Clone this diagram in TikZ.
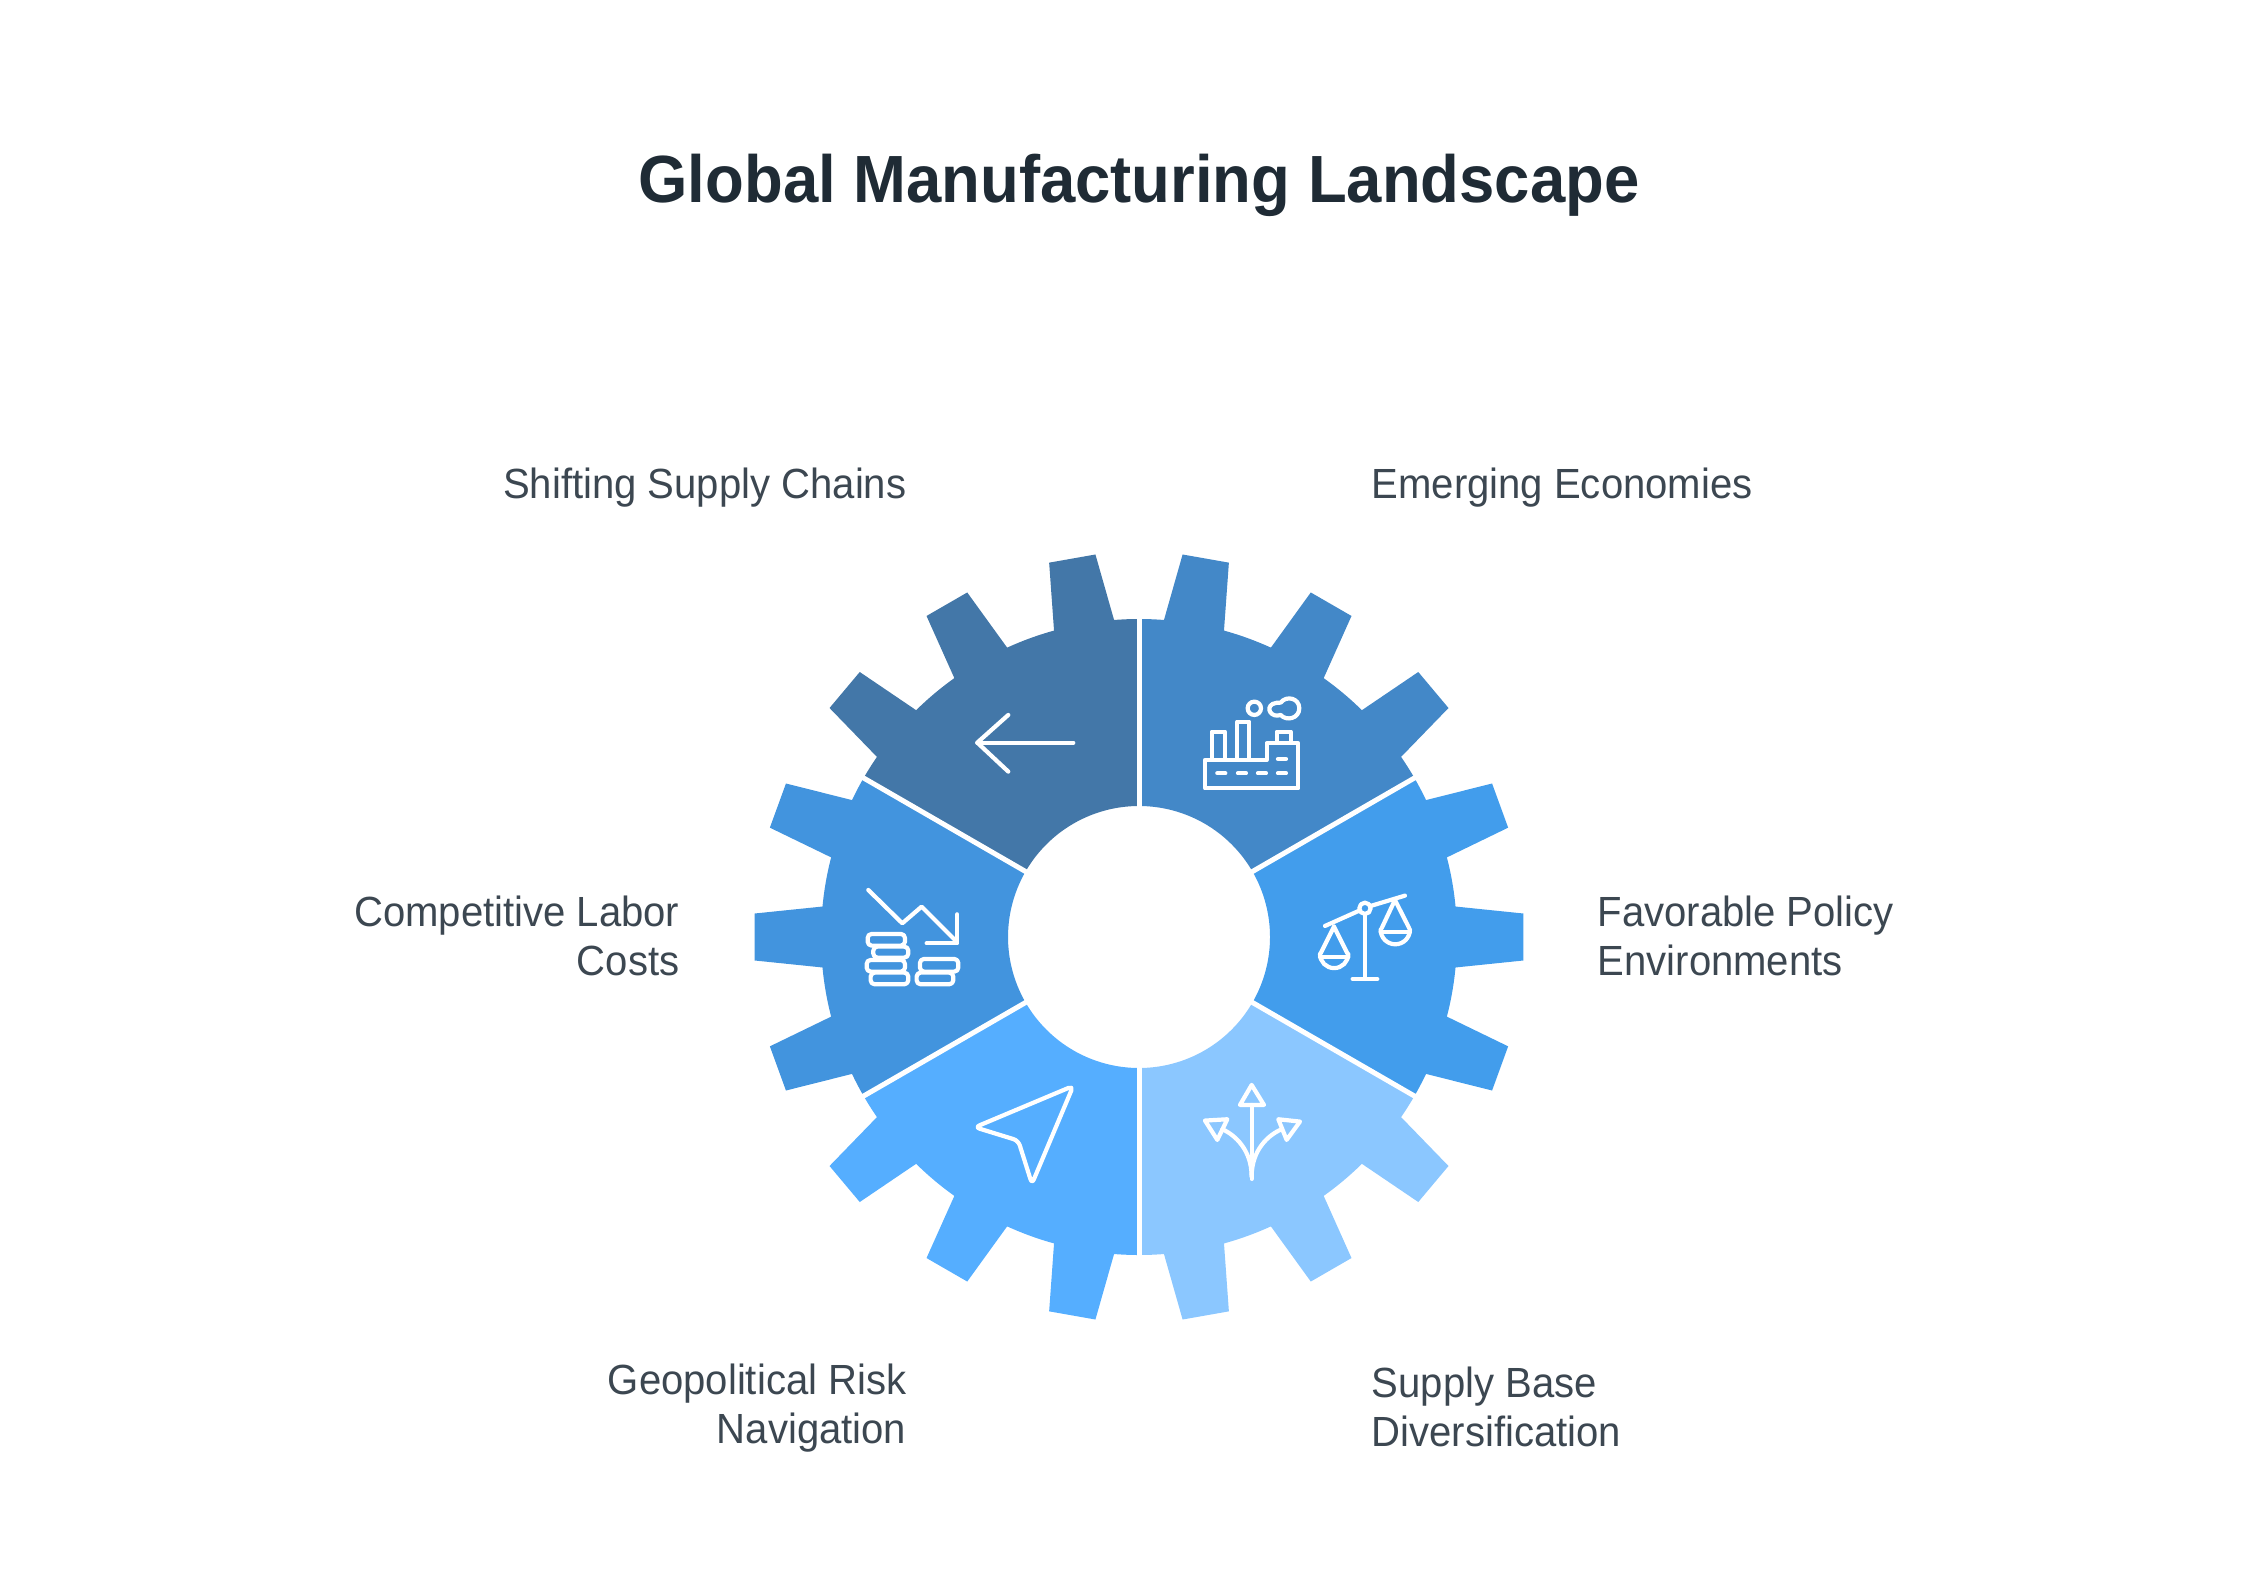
\documentclass[tikz,border=0pt]{standalone}
\usepackage{fontspec}
\setmainfont{Liberation Sans}
\newfontfamily\titlefont[FakeStretch=0.95]{Liberation Sans}
\newfontfamily\labelfont[FakeStretch=0.95]{Liberation Sans}
\definecolor{titlecol}{HTML}{1F2B35}
\definecolor{labelcol}{HTML}{3C4751}
\definecolor{shiftcol}{HTML}{4377A8}
\definecolor{emergecol}{HTML}{4388C8}
\definecolor{policycol}{HTML}{429DEC}
\definecolor{basecol}{HTML}{8BC7FF}
\definecolor{riskcol}{HTML}{55AEFF}
\definecolor{laborcol}{HTML}{4294DE}
\tikzset{
  lbl/.style={inner sep=0pt,text=labelcol,font=\labelfont\fontsize{12}{13.85}\selectfont},
  lblr/.style={lbl,anchor=east,align=right},
  lbll/.style={lbl,anchor=west,align=left},
  icon/.style={white,line width=0.42mm,line join=round,line cap=round},
  iconat/.style 2 args={shift={(#1,-#2)},x=0.03333mm,y=-0.03333mm}
}
\begin{document}
\begin{tikzpicture}[x=0.1mm,y=0.1mm]
\useasboundingbox (0,0) rectangle (2245,-1587);

\node[inner sep=0pt,text=titlecol,font=\titlefont\fontsize{19}{23}\selectfont\bfseries] (title) at (1139,-185) {Global Manufacturing Landscape};

% gear sectors
\begin{scope}[shift={(1139,-937)}]
\foreach \a/\col in {90/shiftcol,30/emergecol,-30/policycol,-90/basecol,-150/riskcol,150/laborcol}
  \fill[\col] (\a:131)
    \foreach \d in {10,30,50} {
      -- (\a+\d-10:318) arc[start angle=\a+\d-10,end angle=\a+\d-5.5,radius=318]
      -- (\a+\d-3.5:385) -- (\a+\d+3.5:385)
      -- (\a+\d+5.5:318) arc[start angle=\a+\d+5.5,end angle=\a+\d+10,radius=318]
    }
    -- (\a+60:131) arc[start angle=\a+60,end angle=\a,radius=131] -- cycle;
\foreach \a in {90,30,-30,-90,-150,150}
  \draw[white,line width=0.5mm] (\a:125) -- (\a:325);
\end{scope}

% left arrow
\begin{scope}[iconat={740}{540}]
\draw[icon] (1000,608) -- (712,608);
\draw[icon] (805,525) -- (712,608) -- (805,695);
\end{scope}

% factory
\begin{scope}[iconat={1130}{540}]
\draw[icon] (225,745) -- (505,745) -- (505,610) -- (410,610) -- (410,660) -- (225,660) -- cycle;
\draw[icon] (245,655) -- (245,575) -- (285,575) -- (285,655);
\draw[icon] (322,655) -- (322,545) -- (358,545) -- (358,655);
\draw[icon] (440,605) -- (440,575) -- (482,575) -- (482,605);
\draw[icon] (373,505) circle[radius=20];
\draw[icon] (452,488) .. controls (470,465) and (508,475) .. (508,505) .. controls (508,535) and (470,545) .. (452,525) .. controls (425,535) and (405,505) .. (428,492) .. controls (435,488) and (445,488) .. (452,488);
\foreach \x in {262,324,384,444}
  \draw[icon] (\x,700) -- (\x+24,700);
\draw[icon] (444,657) -- (468,657);
\end{scope}

% scales
\begin{scope}[iconat={1130}{780}]
\draw[icon] (705,385) circle[radius=17];
\draw[icon] (705,402) -- (705,597);
\draw[icon] (668,597) -- (742,597);
\draw[icon] (585,438) -- (688,392);
\draw[icon] (722,378) -- (825,347);
\draw[icon] (612,440) -- (572,520);
\draw[icon] (612,440) -- (652,520);
\draw[icon] (570,530) -- (655,530);
\draw[icon] (570,522) arc[start angle=180,end angle=0,radius=42.5];
\draw[icon] (795,360) -- (755,445);
\draw[icon] (795,360) -- (838,445);
\draw[icon] (752,457) -- (840,457);
\draw[icon] (752,449) arc[start angle=180,end angle=0,radius=44];
\end{scope}

% branching arrows
\begin{scope}[iconat={1130}{780}]
\draw[icon] (365,1197) -- (365,975);
\draw[icon] (365,915) -- (330,975) -- (402,975) -- cycle;
\draw[icon] (225,1022) -- (292,1018) -- (262,1080) -- cycle;
\draw[icon] (510,1025) -- (445,1018) -- (470,1080) -- cycle;
\draw[icon] (365,1190) .. controls (365,1110) and (315,1065) .. (277,1048);
\draw[icon] (365,1190) .. controls (365,1110) and (415,1065) .. (455,1048);
\end{scope}

% navigation pointer
\begin{scope}[iconat={740}{780}]
\draw[icon,rounded corners=0.5mm] (1000,918) -- (705,1042) -- (835,1082) -- (876,1212) -- cycle;
\end{scope}

% falling costs
\begin{scope}[iconat={740}{780}]
\draw[icon] (385,330) -- (487,430) -- (545,380) -- (645,480);
\draw[icon] (652,403) -- (652,490) -- (560,490);
\foreach \xa/\ya/\xb/\yb in {383/462/495/497,400/500/505/533,380/540/495/575,392/578/505/613,540/537/655/575,530/578/640/613}
  \draw[icon,rounded corners=0.4mm] (\xa,\ya) rectangle (\xb,\yb);
\end{scope}

% labels
\node[lblr] (shifting) at (907,-488) {Shifting Supply Chains};
\node[lbll] (emerging) at (1371,-488) {Emerging Economies};
\node[lblr] (labor) at (680,-936) {Competitive Labor\\Costs};
\node[lbll] (policy) at (1597,-936) {Favorable Policy\\Environments};
\node[lblr] (risk) at (907,-1408) {Geopolitical Risk\\Navigation};
\node[lbll] (base) at (1371,-1407) {Supply Base\\Diversification};
\end{tikzpicture}
\end{document}
